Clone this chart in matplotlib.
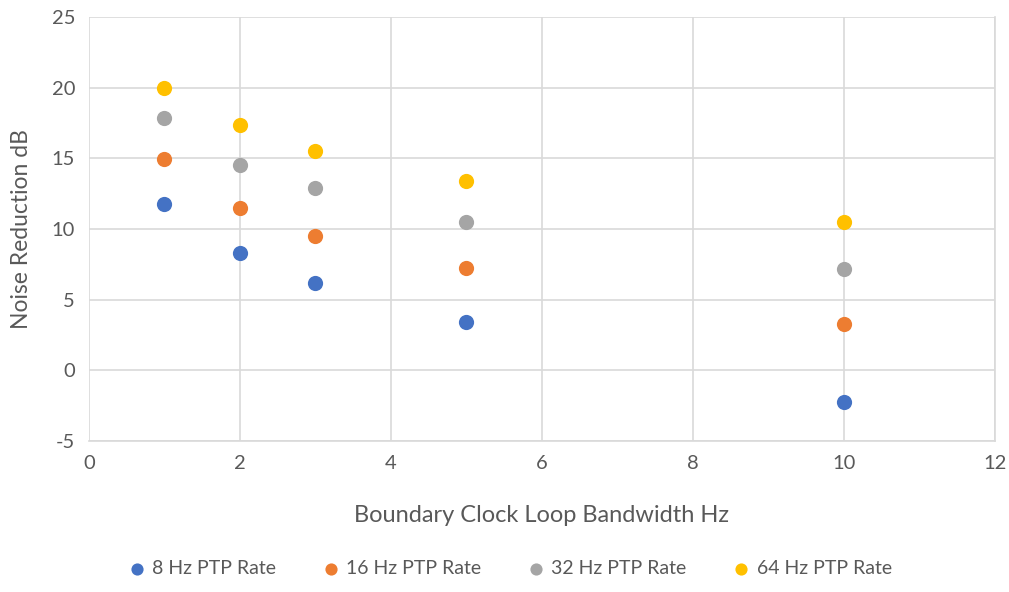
import matplotlib
matplotlib.use("Agg")
import matplotlib.pyplot as plt

plt.rcParams['font.family'] = ['Lato', 'DejaVu Sans']
plt.rcParams['axes.unicode_minus'] = False

bandwidth = [1, 2, 3, 5, 10]
series_names = ["8 Hz PTP Rate", "16 Hz PTP Rate", "32 Hz PTP Rate", "64 Hz PTP Rate"]
rate_8 = [11.75, 8.28, 6.16, 3.40, -2.26]
rate_16 = [14.93, 11.46, 9.48, 7.22, 3.26]
rate_32 = [17.83, 14.5, 12.88, 10.47, 7.15]
rate_64 = [19.96, 17.34, 15.5, 13.38, 10.47]
colors = ["#4472C4", "#ED7D31", "#A5A5A5", "#FFC000"]

fig = plt.figure(figsize=(10.09, 5.92), dpi=100)
ax = fig.add_axes([0.0882, 0.2551, 0.8979, 0.7162])

for vals, name, c in zip([rate_8, rate_16, rate_32, rate_64], series_names, colors):
    ax.scatter(bandwidth, vals, s=120, color=c, label=name, zorder=3, linewidths=0)

ax.set_xlim(0, 12)
ax.set_ylim(-5, 25)
ax.set_xticks(range(0, 13, 2))
ax.set_yticks(range(-5, 26, 5))
ax.grid(True, color="#D9D9D9", linewidth=1.2, zorder=0)
for side in ["top", "left"]:
    ax.spines[side].set_visible(False)
for side in ["bottom", "right"]:
    ax.spines[side].set_color("#D9D9D9")
    ax.spines[side].set_linewidth(1.2)
ax.tick_params(length=0, labelsize=14.5, colors="#595959", pad=10)
ax.set_xlabel("Boundary Clock Loop Bandwidth Hz", fontsize=17, color="#595959", labelpad=24)
ax.set_ylabel("Noise Reduction dB", fontsize=16.5, color="#595959", labelpad=14)

leg = fig.legend(loc="lower center", bbox_to_anchor=(0.5, -0.005), ncol=4, frameon=False,
                 fontsize=14, labelcolor="#595959", handletextpad=-0.2, columnspacing=1.8,
                 markerscale=0.8)

fig.savefig("out.png", dpi=100)
